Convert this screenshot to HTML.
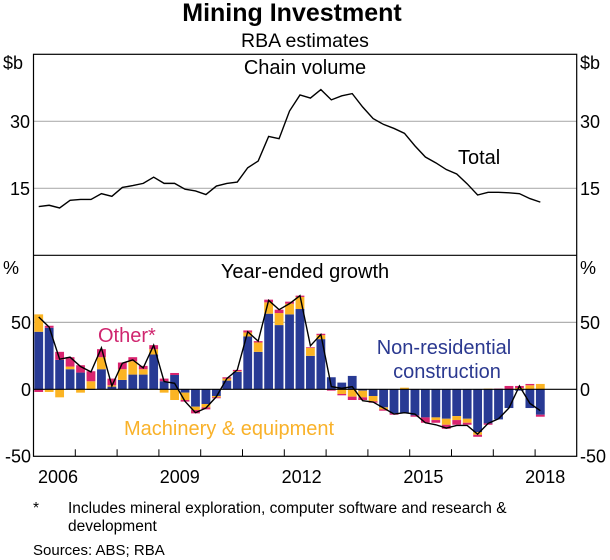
<!DOCTYPE html>
<html><head><meta charset="utf-8"><style>
html,body{margin:0;padding:0;background:#fff;}
svg{display:block;font-family:"Liberation Sans",Arial,sans-serif;}
</style></head><body>
<svg id="chart" width="610" height="560" viewBox="0 0 610 560" xmlns="http://www.w3.org/2000/svg">
<text x="292" y="21" text-anchor="middle" font-size="25" font-weight="bold">Mining Investment</text>
<text x="305" y="47" text-anchor="middle" font-size="19.5">RBA estimates</text>
<g id="grid"></g>
<g id="bars"></g>
<g id="lines"></g>
<g id="axes"></g>
<text x="3" y="69" font-size="18">$b</text>
<text x="580" y="69" font-size="18">$b</text>
<text x="3" y="274" font-size="18">%</text>
<text x="580" y="274" font-size="18">%</text>
<text x="305" y="74" text-anchor="middle" font-size="20">Chain volume</text>
<text x="458" y="164" font-size="20">Total</text>
<text x="305" y="278" text-anchor="middle" font-size="20">Year-ended growth</text>
<text x="98" y="342" font-size="20" fill="#d0266f">Other*</text>
<text x="444" y="354" text-anchor="middle" font-size="20" fill="#2b3990">Non-residential</text>
<text x="447" y="378" text-anchor="middle" font-size="20" fill="#2b3990">construction</text>
<text x="124" y="435" font-size="20" fill="#f9b22a">Machinery &amp; equipment</text>
<text x="33" y="513" font-size="15.5">*</text>
<text x="68" y="513" font-size="15.5">Includes mineral exploration, computer software and research &amp;</text>
<text x="68" y="531" font-size="15.5">development</text>
<text x="33" y="555" font-size="15">Sources: ABS; RBA</text>
</svg>
<script>
const totalLevel = [10.9,11.2,10.6,12.3,12.5,12.5,13.8,13.2,15.2,15.6,16.1,17.5,16.1,16.1,14.8,14.4,13.6,15.5,16.1,16.4,19.6,21.1,26.6,26.1,32.3,35.9,35.2,37.1,34.8,35.7,36.2,33.2,30.6,29.3,28.4,27.3,24.5,22.0,20.7,19.2,18.2,16.0,13.5,14.1,14.1,14.0,13.8,12.7,11.9];
const construction = [43,46,22,15,12.5,-0.5,15,2,7,11,11,26,6,10.7,-2.5,-13,-11,-5,6.5,13,39.5,28,56.5,48,56,60,25,37.5,9,5,10,-1,-5,-13.5,-18,-17.5,-19.5,-21,-21,-22,-20,-22,-32,-25.5,-22.5,-14,-1,-14,-19];
const machinery = [13,-2,-6,2,-2.5,6,9,1,8,10,4,4,-2.5,-8,-5.5,-2.5,-2.5,-1,1.5,0.5,3,7,8.5,9,8,9,6,3,0,-3.5,-5.5,-5,-4,-1.5,0,1.2,0,0,-2,-4.5,-3,-3,-2,0.5,0,0,1,3,4];
const other = [-2,1.5,6,7,5.5,7.5,6,5,5,3,2.5,3,2,1.5,-1.2,-2.5,-1.5,-0.7,1,1,1.5,1,2,2.5,1.5,1,0.5,1,-1,-1,-2.5,-2,-1,-1,-1,0,-1,-4,-2,-3,-3.5,-1.5,-1.5,-1,0.5,2.5,1.5,1,-1.5];
const totalGrowth = [54,46.5,22.5,24,17,13,31,2.5,19.5,22,16,33,5.8,4.5,-9,-17.5,-14,-5.5,8,14.5,43,36,66.5,59.5,64,70,32.5,41,2,0.7,2,-8.5,-9.5,-14,-18.5,-17.5,-18.5,-25,-26.5,-29,-27,-27,-33.5,-25.5,-22,-14,2.5,-10.5,-16];
const yearLabels = ["2006","2009","2012","2015","2018"];
const topTicks = [15,30];
const bottomTicks = [-50,0,50];

const NS="http://www.w3.org/2000/svg";
const L=33.5,R=576.7,T1=54.3,B1=255.3,B2=456.3;
const YW=41.8, Q=YW/4;
const xq=i=>L+(i+0.5)*Q;
const xYear=y=>L+(y-2006)*YW;
const xLabel=y=>58+(y-2006)*40.6;
const yTop=v=>B1-v*(B1-T1)/45;
const yBot=v=>389.3-v*(66.9/50);
function mk(tag,attrs,parent){const e=document.createElementNS(NS,tag);for(const k in attrs)e.setAttribute(k,attrs[k]);parent.appendChild(e);return e;}
const grid=document.getElementById('grid'),bars=document.getElementById('bars'),lines=document.getElementById('lines'),axes=document.getElementById('axes');
topTicks.forEach(t=>{
 const g=mk('line',{x1:L,x2:R,y1:yTop(t),y2:yTop(t),stroke:'#b0b0b0','stroke-width':1.2},grid);
 
 
 const a=mk('text',{x:30,y:yTop(t)+6.5,'text-anchor':'end','font-size':18},axes);a.textContent=t;
 
 
 const b=mk('text',{x:580,y:yTop(t)+6.5,'font-size':18},axes);b.textContent=t;
 
 
});
bottomTicks.forEach(t=>{
 if(t===50){const g=mk('line',{x1:L,x2:R,y1:yBot(t),y2:yBot(t),stroke:'#b0b0b0','stroke-width':1.2},grid);
 
 }
 const a=mk('text',{x:31,y:yBot(t)+6.5,'text-anchor':'end','font-size':18},axes);a.textContent=t;
 
 
 const b=mk('text',{x:580,y:yBot(t)+6.5,'font-size':18},axes);b.textContent=t;
 
 
});
const cols=['#283a94','#fbb423','#d9246f'];
construction.forEach((c,i)=>{
 const parts=[c,machinery[i],other[i]];
 let pos=0,neg=0;
 parts.forEach((v,k)=>{
  let y0,y1;
  if(v>=0){y0=pos;y1=pos+v;pos=y1;}else{y0=neg;y1=neg+v;neg=y1;}
  const top=Math.min(yBot(y0),yBot(y1)),h=Math.abs(yBot(y1)-yBot(y0));
  const r=mk('rect',{x:xq(i)-4.4,y:top,width:8.8,height:h,fill:cols[k]},bars);
  
  
 });
});
const z=mk('line',{x1:L,x2:R,y1:yBot(0),y2:yBot(0),stroke:'#000','stroke-width':1.2},axes);


const p1=mk('polyline',{points:totalLevel.map((v,i)=>xq(i)+','+yTop(v)).join(' '),fill:'none',stroke:'#000','stroke-width':1.4},lines);


const p2=mk('polyline',{points:totalGrowth.map((v,i)=>xq(i)+','+yBot(v)).join(' '),fill:'none',stroke:'#000','stroke-width':1.4},lines);


const fr=mk('rect',{x:L,y:T1,width:R-L,height:B2-T1,fill:'none',stroke:'#000','stroke-width':1.2},axes);


const dv=mk('line',{x1:L,x2:R,y1:B1,y2:B1,stroke:'#000','stroke-width':1.2},axes);


for(let y=2007;y<=2018;y++){
 const t=mk('line',{x1:xYear(y),x2:xYear(y),y1:B2,y2:B2-7,stroke:'#000','stroke-width':1},axes);
 
 
}
yearLabels.forEach(s=>{
 const t=mk('text',{x:xLabel(+s),y:483,'text-anchor':'middle','font-size':18},axes);t.textContent=s;
 
 
});
</script>
</body></html>
